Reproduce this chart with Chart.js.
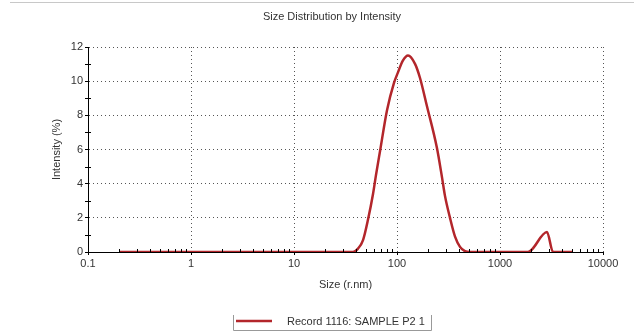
<!DOCTYPE html>
<html>
<head>
<meta charset="utf-8">
<title>Size Distribution by Intensity</title>
<script src="https://cdn.jsdelivr.net/npm/chart.js@4.4.1/dist/chart.umd.min.js"></script>
<style>
  html, body { margin: 0; padding: 0; background: #fff; }
  #wrap { width: 634px; height: 331px; position: relative; }
</style>
</head>
<body>
<div id="wrap"><canvas id="myChart" width="634" height="331"></canvas></div>
<script>
// size in r.nm, intensity in %
const sizes = [0.2, 37.4, 41.8, 46.8, 52.3, 58.5, 62.5, 68.4, 80, 93.5, 102, 114, 128, 150, 167, 196, 244, 273, 292, 327, 366, 409, 457, 512, 1870, 2860, 3270, 5000];
const intensity = [0, 0, 0.2, 0.7, 1.9, 3.4, 4.5, 5.9, 8.3, 9.9, 10.5, 11.2, 11.5, 11.0, 10.2, 8.5, 6.1, 4.4, 3.3, 2.0, 0.9, 0.3, 0.05, 0, 0, 1.17, 0, 0];
const xTicks = [0.1, 1, 10, 100, 1000, 10000];
const yTicks = [0, 2, 4, 6, 8, 10, 12];
const seriesName = 'Record 1116: SAMPLE P2 1';

const ctx = document.getElementById('myChart');
const FONT = 'Liberation Sans, Arial, sans-serif';
const TXT = '#333';
const RED = '#b3262b';

// title, legend, minor ticks and the frame line at the top
const extras = {
  id: 'extras',
  afterDraw(chart) {
    const c = chart.ctx;
    const x = chart.scales.x, y = chart.scales.y;
    c.save();
    // top rule
    c.strokeStyle = '#c8c8c8';
    c.lineWidth = 1;
    c.beginPath(); c.moveTo(10, 2.5); c.lineTo(634, 2.5); c.stroke();

    // minor ticks
    c.strokeStyle = '#000';
    c.beginPath();
    for (let d = 0.1; d < 10000; d *= 10) {
      for (let k = 2; k <= 9; k++) {
        const px = Math.round(x.getPixelForValue(d * k)) + 0.5;
        c.moveTo(px, y.bottom); c.lineTo(px, y.bottom - 3);
      }
    }
    for (let v = 1; v < 12; v += 2) {
      const py = Math.round(y.getPixelForValue(v)) + 0.5;
      c.moveTo(x.left - 3, py); c.lineTo(x.left + 3, py);
    }
    c.stroke();

    // title
    c.fillStyle = TXT;
    c.font = '11px ' + FONT;
    c.textAlign = 'center';
    c.textBaseline = 'middle';
    c.fillText('Size Distribution by Intensity', 332, 17);

    // legend
    c.strokeStyle = '#999';
    c.beginPath();
    c.moveTo(233.5, 315); c.lineTo(233.5, 330.5); c.lineTo(431.5, 330.5); c.lineTo(431.5, 315);
    c.stroke();
    c.strokeStyle = RED;
    c.lineWidth = 2.5;
    c.beginPath(); c.moveTo(236, 321); c.lineTo(272, 321); c.stroke();
    c.fillStyle = TXT;
    c.font = '11px ' + FONT;
    c.textAlign = 'left';
    c.fillText(seriesName, 287, 322);
    c.restore();
  }
};

const grafico = new Chart(ctx, {
  type: 'line',
  data: {
    datasets: [{
      label: seriesName,
      data: sizes.map((s, i) => ({ x: s, y: intensity[i] })),
      borderColor: RED,
      borderWidth: 2.5,
      pointRadius: 0,
      cubicInterpolationMode: 'monotone',
      fill: false
    }]
  },
  options: {
    responsive: false,
    animation: false,
    layout: { padding: { left: 0, top: 47, right: 31, bottom: 0 } },
    plugins: {
      legend: { display: false },
      title: { display: false },
      tooltip: { enabled: false }
    },
    scales: {
      x: {
        type: 'logarithmic',
        min: 0.1,
        max: 10000,
        afterBuildTicks: (s) => { s.ticks = xTicks.map(v => ({ value: v })); },
        afterFit: (s) => { s.height = 79; },
        ticks: {
          color: TXT,
          font: { size: 11, family: FONT },
          padding: 2,
          maxRotation: 0,
          autoSkip: false,
          callback: (v) => String(v)
        },
        grid: {
          color: '#555',
          lineWidth: 1,
          tickLength: 3,
          tickColor: '#000'
        },
        border: { display: true, color: '#000', width: 1, dash: [1, 3] },
        title: {
          display: true,
          text: 'Size (r.nm)',
          color: TXT,
          font: { size: 11, family: FONT },
          padding: { top: 0, bottom: 39 }
        }
      },
      y: {
        min: 0,
        max: 12,
        afterBuildTicks: (s) => { s.ticks = yTicks.map(v => ({ value: v })); },
        afterFit: (s) => { s.width = 88; },
        ticks: {
          color: TXT,
          font: { size: 11, family: FONT },
          padding: 2
        },
        grid: {
          color: '#555',
          lineWidth: 1,
          tickLength: 3,
          tickColor: '#000'
        },
        border: { display: true, color: '#000', width: 1, dash: [1, 3] },
        title: {
          display: true,
          text: 'Intensity (%)',
          color: TXT,
          font: { size: 11, family: FONT },
          padding: { top: 50, bottom: 0 }
        }
      }
    }
  },
  plugins: [extras]
});
</script>
</body>
</html>
